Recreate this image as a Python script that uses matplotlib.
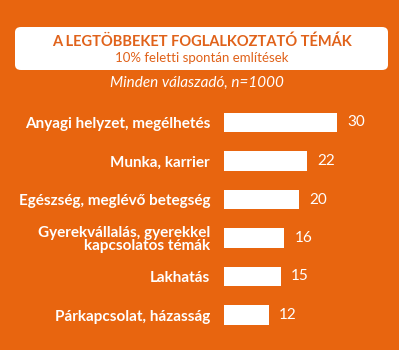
import matplotlib.pyplot as plt
from matplotlib.patches import FancyBboxPatch

categories = [
    "Anyagi helyzet, megélhetés",
    "Munka, karrier",
    "Egészség, meglévő betegség",
    "Gyerekvállalás, gyerekkel\nkapcsolatos témák",
    "Lakhatás",
    "Párkapcsolat, házasság",
]
values = [30, 22, 20, 16, 15, 12]

title = "A LEGTÖBBEKET FOGLALKOZTATÓ TÉMÁK"
subtitle = "10% feletti spontán említések"
base_note = "Minden válaszadó, n=1000"

orange = "#E8650F"
plt.rcParams['font.family'] = ['Lato', 'DejaVu Sans']

W, H = 399, 350
fig = plt.figure(figsize=(W / 100, H / 100), dpi=100, facecolor=orange)

# white header box
box = FancyBboxPatch((15 / W, 1 - 70 / H), 373 / W, 43 / H,
                     boxstyle="round,pad=0,rounding_size=0.015",
                     transform=fig.transFigure, facecolor="white",
                     edgecolor="none")
fig.patches.append(box)
fig.text(202 / W, 1 - 42 / H, title, ha="center", va="center",
         color="#E0621A", fontsize=10.5, fontweight="bold")
fig.text(202 / W, 1 - 58 / H, subtitle, ha="center", va="center",
         color="#E0621A", fontsize=9.5)
fig.text(197 / W, 1 - 83 / H, base_note, ha="center", va="center",
         color="white", fontsize=11, fontstyle="italic")

# bars area
left, top, bottom = 224, 103.25, 334.25
ax = fig.add_axes([left / W, 1 - bottom / H, 160 / W, (bottom - top) / H])
ax.set_facecolor(orange)
y = range(len(categories))
ax.barh(y, values, height=0.5, color="white")
ax.set_xlim(0, 160 / 3.77)
ax.set_ylim(len(categories) - 0.5, -0.5)
ax.set_yticks(list(y))
ax.set_yticklabels(categories, color="white", fontweight="bold", fontsize=11,
                   linespacing=0.95)
ax.tick_params(axis="y", length=0, pad=10)
ax.set_xticks([])
for s in ax.spines.values():
    s.set_visible(False)
for i, v in enumerate(values):
    ax.text(v + 10 / 3.77, i, str(v), va="center", ha="left",
            color="white", fontsize=11)

fig.savefig("out.png", dpi=100, facecolor=orange)
